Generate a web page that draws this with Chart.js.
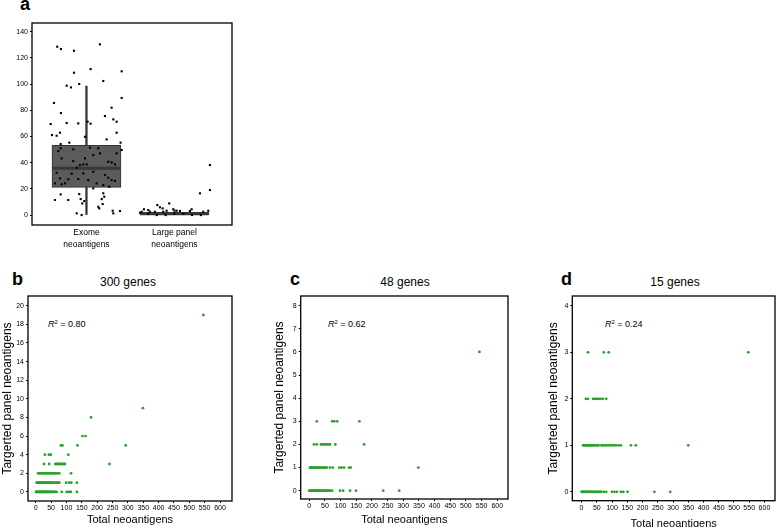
<!DOCTYPE html>
<html lang="en">
<head>
<meta charset="UTF-8">
<title>Neoantigens: exome vs targeted panels</title>
<script src="https://cdn.jsdelivr.net/npm/chart.js"></script>
<style>
    body {
        margin: 0;
        width: 779px;
        height: 527px;
        overflow: hidden;
        background: #fff;
        position: relative;
        font-family: "Liberation Sans", Arial, sans-serif;
        color: #000;
    }
    canvas { position: absolute; }
    .letter {
        position: absolute;
        font-weight: bold;
        font-size: 18px;
        line-height: 1;
    }
    .title {
        position: absolute;
        font-size: 12px;
        line-height: 14px;
        transform: translateX(-50%);
        white-space: nowrap;
    }
    .r2 {
        position: absolute;
        font-size: 9px;
        line-height: 11px;
        white-space: nowrap;
    }
    .r2 sup { font-size: 6px; vertical-align: 3px; }
</style>
</head>
<body>
    <div class="letter" style="left:20px; top:-5px;">a</div>
    <div class="letter" style="left:12px; top:270px;">b</div>
    <div class="letter" style="left:290px; top:270px;">c</div>
    <div class="letter" style="left:561px; top:270px;">d</div>

    <div class="title" style="left:128px; top:275px;">300 genes</div>
    <div class="title" style="left:405px; top:275px;">48 genes</div>
    <div class="title" style="left:675px; top:275px;">15 genes</div>

    <div class="r2" style="left:48px; top:317px;"><i>R</i><sup>2</sup> = 0.80</div>
    <div class="r2" style="left:328px; top:317px;"><i>R</i><sup>2</sup> = 0.62</div>
    <div class="r2" style="left:605px; top:317px;"><i>R</i><sup>2</sup> = 0.24</div>

    <canvas id="boxChart" width="245" height="254" style="left:0; top:0;"></canvas>
    <canvas id="chartB" width="240" height="239" style="left:0; top:288px;"></canvas>
    <canvas id="chartC" width="245" height="239" style="left:272px; top:288px;"></canvas>
    <canvas id="chartD" width="233" height="243" style="left:546px; top:288px;"></canvas>

<script>
// panel a: box plot
const boxCategories = [['Exome', 'neoantigens'], ['Large panel', 'neoantigens']];
const boxQ1 = [21.2, 0];
const boxMedian = [35.7, 1];
const boxQ3 = [53.2, 2];
const whiskerLow = [0, 0];
const whiskerHigh = [98.5, 4];
const boxTicks = [0, 20, 40, 60, 80, 100, 120, 140];

// jittered sample points (x = category position incl. jitter)
const exomeJitter = [0.668, 0.710, 0.858, 1.153, 1.047, 0.858, 1.400, 1.191, 0.775, 0.824, 0.918, 1.400, 0.631, 1.286, 0.710, 1.210, 1.305, 1.343, 1.013, 1.047, 0.775, 0.907, 0.593, 0.608, 0.661, 0.699, 1.229, 0.983, 1.343, 1.388, 0.707, 0.805, 1.400,
    0.680, 0.707, 0.850, 1.040, 1.134, 1.153, 1.343, 1.248, 1.286, 1.324, 0.926, 0.964, 1.002, 0.889, 0.661, 0.832, 0.964, 1.077, 1.210, 1.248, 1.286, 1.324, 0.699, 0.793, 0.907, 1.020, 0.642, 0.718, 0.756, 1.116, 1.191, 1.259, 0.983, 0.850, 0.718, 1.077,
    0.707, 0.642, 0.793, 0.918, 0.934, 0.952, 0.975, 0.889, 0.945, 1.077, 1.191, 1.202, 1.173, 1.184, 1.134, 1.145, 1.298, 1.381, 1.305];
const exomeValues = [128.6, 126.8, 125.5, 130.4, 111.5, 108.7, 109.8, 102.4, 98.8, 97.5, 100.1, 89.4, 85.6, 82.0, 77.9, 75.6, 73.1, 71.3, 71.3, 69.8, 70.3, 70.0, 69.5, 61.1, 60.6, 62.9, 57.8, 59.8, 62.9, 55.3, 54.2, 55.3, 49.7,
    48.9, 51, 50.2, 51.4, 51, 47.1, 47.1, 40.7, 40.2, 38.7, 38.2, 38.7, 38.7, 36.1, 32.3, 31.6, 31.8, 33.1, 30.6, 28.5, 26.7, 26, 28, 27.3, 27.5, 26.7, 24.2, 23.5, 24.2, 24.2, 22.9, 21.6, 43.3, 41.2, 43.3, 45.8,
    15.8, 11.5, 11.5, 16, 12.2, 8.9, 10.7, 1.3, 0, 20.4, 16.6, 14, 12.2, 8.4, 6.3, 5.1, 3.3, 3.1, 1.3];
const largeJitter = [2.403, 2.403, 2.290, 1.805, 1.941, 1.835, 1.866, 1.653, 1.702, 1.986, 2.025, 2.063, 2.176, 2.195, 1.722, 1.627, 1.778, 1.873, 1.911, 2.327, 2.384, 1.608, 1.70, 1.90, 2.10, 2.30, 1.80, 2.00, 2.20];
const largeValues = [38.2, 19.1, 16.6, 7.6, 8.9, 5.9, 5.1, 4.4, 3.8, 4.4, 3.3, 3.1, 3.1, 4.4, 2.5, 2.5, 2.5, 2.5, 3.3, 2.5, 3.3, 1.8, 1, 0, 1, 0, 0, 1, 0];

// panels b-d: [targeted count, total neoantigens of samples at that count]
const totalTicks = [0, 50, 100, 150, 200, 250, 300, 350, 400, 450, 500, 550, 600];
const rows300 = [
    [0, [1, 2, 4, 6, 9, 11, 12, 15, 17, 19, 22, 24, 25, 28, 30, 33, 35, 36, 39, 41, 44, 46, 49, 51, 54, 57, 60, 63, 68, 85, 101, 108, 114, 134]],
    [1, [3, 5, 8, 10, 13, 15, 18, 21, 23, 26, 29, 31, 34, 37, 40, 42, 45, 48, 51, 55, 58, 62, 66, 70, 74, 77, 99, 109, 116, 134]],
    [2, [8, 11, 14, 18, 22, 25, 29, 33, 37, 41, 45, 49, 53, 57, 62, 66, 71, 77, 115]],
    [3, [27, 44, 64, 67, 71, 75, 80, 85, 90, 95, 240]],
    [4, [30, 43, 49, 106]],
    [5, [82, 87, 136, 293]],
    [6, [152, 162]],
    [8, [180]],
    [9, [349]],
    [19, [546]]
];
const rows48 = [
    [0, [0, 2, 4, 7, 9, 12, 14, 17, 20, 23, 26, 29, 32, 35, 38, 41, 44, 48, 51, 55, 58, 62, 66, 73, 98, 108, 130, 149, 236, 287]],
    [1, [2, 5, 8, 11, 14, 17, 20, 23, 27, 30, 33, 37, 40, 44, 48, 52, 56, 66, 75, 96, 103, 111, 127, 132, 348]],
    [2, [15, 24, 37, 41, 46, 51, 56, 61, 66, 83, 175]],
    [3, [24, 73, 80, 89, 160]],
    [6, [543]]
];
const rows15 = [
    [0, [0, 2, 5, 7, 10, 12, 15, 18, 21, 24, 27, 30, 33, 36, 40, 43, 47, 50, 54, 58, 62, 65, 73, 81, 100, 108, 116, 129, 137, 151, 239, 291]],
    [1, [5, 8, 11, 14, 17, 20, 23, 27, 30, 33, 37, 40, 44, 48, 52, 56, 65, 70, 76, 82, 88, 94, 100, 107, 113, 121, 129, 162, 178, 350]],
    [2, [14, 21, 38, 44, 50, 56, 62, 70, 81]],
    [3, [21, 73, 89, 547]]
];

const FONT = '"Liberation Sans", Arial, sans-serif';
Chart.defaults.font.family = FONT;
Chart.defaults.color = '#000';

// black frame round the plot area
const framePlugin = {
    id: 'frame',
    afterDatasetsDraw(chart) {
        const { ctx, chartArea: a } = chart;
        ctx.save();
        ctx.strokeStyle = '#000';
        ctx.lineWidth = 1.3;
        ctx.strokeRect(a.left, a.top, a.right - a.left, a.bottom - a.top);
        ctx.restore();
    }
};

const baseOptions = {
    responsive: false,
    animation: false,
    events: [],
    plugins: { legend: { display: false }, tooltip: { enabled: false } }
};

// ---- panel a ----
const jitterPoints = exomeJitter.map((x, i) => ({ x: x, y: exomeValues[i] }))
    .concat(largeJitter.map((x, i) => ({ x: x, y: largeValues[i] })));

new Chart(document.getElementById('boxChart'), {
    type: 'scatter',
    data: {
        datasets: [
            {
                type: 'bar',
                data: whiskerHigh.map((h, i) => ({ x: i + 1, y: [whiskerLow[i], h] })),
                backgroundColor: '#333',
                barThickness: 1.6,
                grouped: false,
                order: 3
            },
            {
                type: 'bar',
                data: boxQ1.map((q, i) => ({ x: i + 1, y: [q, boxQ3[i]] })),
                backgroundColor: '#5b5b5b',
                borderColor: '#333',
                borderWidth: 1,
                borderSkipped: false,
                barThickness: 69,
                grouped: false,
                order: 2
            },
            {
                type: 'scatter',
                data: boxMedian.map((m, i) => ({ x: i + 1, y: m })),
                pointStyle: 'line',
                radius: 34,
                borderColor: '#383838',
                borderWidth: 3,
                order: 1
            },
            {
                type: 'scatter',
                data: jitterPoints,
                pointStyle: 'rect',
                radius: 1.5,
                backgroundColor: '#000',
                borderWidth: 0,
                order: 0
            }
        ]
    },
    options: {
        ...baseOptions,
        layout: { autoPadding: false, padding: { top: 23, right: 13, left: 0, bottom: 0 } },
        scales: {
            x: {
                type: 'linear',
                offset: false,
                min: 0.381,
                max: 2.654,
                afterBuildTicks: axis => { axis.ticks = [{ value: 1 }, { value: 2 }]; },
                afterFit: axis => { axis.height = 29; axis.paddingLeft = 0; axis.paddingRight = 0; },
                ticks: {
                    callback: v => boxCategories[v - 1],
                    font: { size: 8.5, lineHeight: 1.35 },
                    color: '#000',
                    padding: 2,
                    maxRotation: 0,
                    autoSkip: false
                },
                grid: { display: false, drawTicks: false, offset: false },
                border: { display: false }
            },
            y: {
                min: -7.6,
                max: 146.7,
                afterBuildTicks: axis => { axis.ticks = boxTicks.map(v => ({ value: v })); },
                afterFit: axis => { axis.width = 32; },
                ticks: { font: { size: 7 }, color: '#000', padding: 2 },
                grid: { drawOnChartArea: false, tickLength: 2, color: '#000' },
                border: { display: false }
            }
        }
    },
    plugins: [framePlugin]
});

// ---- panels b, c, d ----
function scatterPanel(id, rows, opts) {
    const points = rows.flatMap(([count, totals]) => totals.map(t => ({ x: t, y: count })));
    return new Chart(document.getElementById(id), {
        type: 'scatter',
        data: {
            datasets: [{
                data: points,
                pointStyle: 'circle',
                radius: 1.4,
                backgroundColor: '#2ca02c',
                borderWidth: 0
            }]
        },
        options: {
            ...baseOptions,
            layout: { padding: { top: 8, right: opts.right, left: 0, bottom: 0 } },
            scales: {
                x: {
                    type: 'linear',
                    min: opts.xMin,
                    max: opts.xMax,
                    afterBuildTicks: axis => { axis.ticks = totalTicks.map(v => ({ value: v })); },
                    afterFit: axis => { axis.height = opts.xHeight; },
                    ticks: { font: { size: 7 }, color: '#000', padding: 1, maxRotation: 0, autoSkip: false },
                    grid: { drawOnChartArea: false, tickLength: 2, color: '#000' },
                    border: { display: false },
                    title: { display: true, text: 'Total neoantigens', font: { size: 11 }, color: '#000', padding: 0 }
                },
                y: {
                    min: opts.yMin,
                    max: opts.yMax,
                    afterBuildTicks: axis => { axis.ticks = opts.yTicks.map(v => ({ value: v })); },
                    afterFit: axis => { axis.width = opts.yWidth; },
                    ticks: { font: { size: 7 }, color: '#000', padding: 2 },
                    grid: { drawOnChartArea: false, tickLength: 2, color: '#000' },
                    border: { display: false },
                    title: { display: true, text: 'Targerted panel neoantigens', font: { size: 12 }, color: '#000', padding: 0 }
                }
            }
        },
        plugins: [framePlugin]
    });
}

scatterPanel('chartB', rows300, {
    xMin: -25.1, xMax: 639, yMin: -0.97, yMax: 21.04,
    yTicks: [0, 2, 4, 6, 8, 10, 12, 14, 16, 18, 20],
    yWidth: 28, xHeight: 26, right: 8
});
scatterPanel('chartC', rows48, {
    xMin: -27.4, xMax: 634.3, yMin: -0.36, yMax: 8.42,
    yTicks: [0, 1, 2, 3, 4, 5, 6, 7, 8],
    yWidth: 28.7, xHeight: 28, right: 9
});
scatterPanel('chartD', rows15, {
    xMin: -30.4, xMax: 634.6, yMin: -0.19, yMax: 4.21,
    yTicks: [0, 1, 2, 3, 4],
    yWidth: 26.3, xHeight: 30.3, right: 1
});
</script>
</body>
</html>
